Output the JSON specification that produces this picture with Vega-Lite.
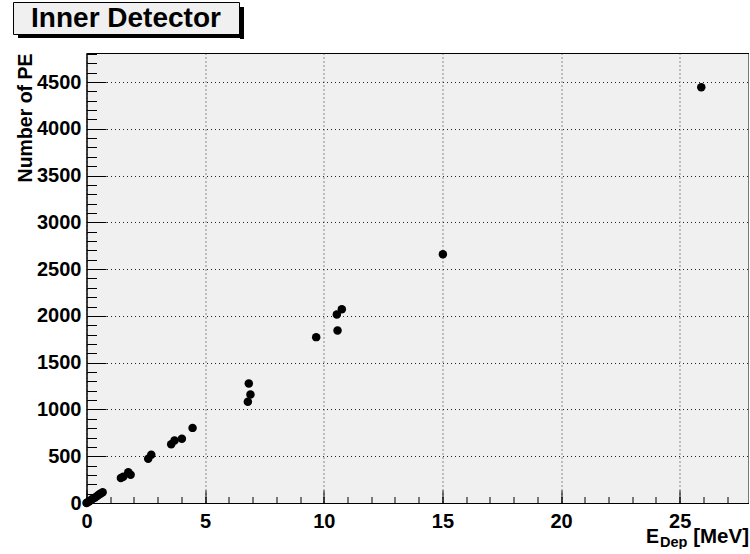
{
  "$schema": "https://vega.github.io/schema/vega-lite/v6.json",
  "background": "white",
  "padding": {"left": 12, "top": 1, "right": 0, "bottom": 0},
  "config": {"font": "Liberation Sans"},
  "columns": 2,
  "align": "none",
  "spacing": {"row": 17, "column": -225.5},
  "datasets": {
    "pe": [
      {"E": 0.0, "PE": 0}, {"E": 0.05, "PE": 8}, {"E": 0.12, "PE": 20}, {"E": 0.2, "PE": 34},
      {"E": 0.28, "PE": 47}, {"E": 0.36, "PE": 60}, {"E": 0.45, "PE": 76}, {"E": 0.53, "PE": 90},
      {"E": 0.6, "PE": 102}, {"E": 0.68, "PE": 115},
      {"E": 1.45, "PE": 268}, {"E": 1.55, "PE": 280}, {"E": 1.76, "PE": 328}, {"E": 1.86, "PE": 303},
      {"E": 2.6, "PE": 472}, {"E": 2.73, "PE": 517},
      {"E": 3.57, "PE": 628}, {"E": 3.71, "PE": 668}, {"E": 4.02, "PE": 688}, {"E": 4.47, "PE": 803},
      {"E": 6.8, "PE": 1081}, {"E": 6.91, "PE": 1160}, {"E": 6.84, "PE": 1277},
      {"E": 9.68, "PE": 1773}, {"E": 10.58, "PE": 1845}, {"E": 10.55, "PE": 2016}, {"E": 10.76, "PE": 2070},
      {"E": 15.02, "PE": 2658},
      {"E": 25.91, "PE": 4445}
    ]
  },
  "concat": [
    {
      "width": 226,
      "height": 32,
      "view": {"stroke": "black", "strokeWidth": 1, "fill": "#f0f0f0"},
      "data": {"values": [{"label": "Inner Detector", "k": 0}]},
      "mark": {"type": "text", "font": "Liberation Sans", "fontWeight": "bold", "fontSize": 28, "color": "black", "baseline": "middle", "align": "center", "dy": 1},
      "encoding": {
        "text": {"field": "label"},
        "x": {
          "field": "k", "type": "quantitative", "scale": {"domain": [-1, 1]},
          "axis": {"orient": "bottom", "labels": false, "ticks": false, "grid": false, "title": null,
                   "domain": true, "domainColor": "black", "domainWidth": 4, "translate": 5, "offset": -3}
        },
        "y": {
          "field": "k", "type": "quantitative", "scale": {"domain": [-1, 1]},
          "axis": {"orient": "right", "labels": false, "ticks": false, "grid": false, "title": null,
                   "domain": true, "domainColor": "black", "domainWidth": 4, "translate": 5, "offset": -2}
        }
      }
    },
    {
      "width": 1,
      "height": 1,
      "view": {"stroke": null, "fill": "white", "fillOpacity": 0},
      "data": {"values": []},
      "mark": "point"
    },
    {
      "width": 1,
      "height": 1,
      "view": {"stroke": null, "fill": "white", "fillOpacity": 0},
      "data": {"values": []},
      "mark": "point"
    },
    {
      "width": 662,
      "height": 450,
      "view": {"stroke": "black", "strokeWidth": 1, "fill": "#f0f0f0"},
      "data": {"name": "pe"},
      "resolve": {"axis": {"x": "independent", "y": "independent"}},
      "layer": [
        {
          "mark": {"type": "point", "filled": true, "color": "black", "size": 72, "opacity": 1},
          "encoding": {
            "x": {
              "field": "E", "type": "quantitative",
              "scale": {"domain": [0, 27.9], "nice": false, "zero": false},
              "axis": {
                "orient": "bottom",
                "values": [0, 5, 10, 15, 20, 25], "format": "d",
                "grid": true, "gridColor": "#222222", "gridDash": [1, 3], "gridWidth": 1,
                "ticks": false, "domain": true, "domainColor": "black", "domainWidth": 1,
                "labelFont": "Liberation Sans", "labelFontWeight": "bold", "labelFontSize": 20, "labelColor": "black",
                "labelPadding": 8, "labelFlush": false, "labelOverlap": false,
                "title": "[MeV]", "titleFont": "Liberation Sans", "titleFontWeight": "bold", "titleFontSize": 20.5, "titleColor": "black",
                "titleX": 662, "titleY": 39, "titleAlign": "right", "titleBaseline": "alphabetic"
              }
            },
            "y": {
              "field": "PE", "type": "quantitative",
              "scale": {"domain": [0, 4810], "nice": false, "zero": false},
              "axis": {
                "orient": "left",
                "values": [0, 500, 1000, 1500, 2000, 2500, 3000, 3500, 4000, 4500], "format": "d",
                "grid": true, "gridColor": "#222222", "gridDash": [1, 3], "gridWidth": 1,
                "ticks": false, "domain": true, "domainColor": "black", "domainWidth": 1,
                "labelFont": "Liberation Sans", "labelFontWeight": "bold", "labelFontSize": 20, "labelColor": "black",
                "labelPadding": 5.5, "labelFlush": false, "labelOverlap": false,
                "title": "Number of PE", "titleFont": "Liberation Sans", "titleFontWeight": "bold", "titleFontSize": 19.5, "titleColor": "black",
                "titleX": -55, "titleY": 0, "titleAngle": -90, "titleAlign": "right", "titleBaseline": "alphabetic"
              }
            }
          }
        },
        {
          "mark": {"type": "point", "filled": true, "opacity": 0},
          "encoding": {
            "x": {
              "field": "E", "type": "quantitative",
              "axis": {
                "orient": "bottom",
                "values": [0, 5, 10, 15, 20, 25],
                "grid": false, "domain": false, "labels": false,
                "ticks": true, "tickSize": -13, "tickColor": "black", "tickWidth": 1,
                "title": "E", "titleFont": "Liberation Sans", "titleFontWeight": "bold", "titleFontSize": 19.5, "titleColor": "black",
                "titleX": 559, "titleY": 39, "titleAlign": "left", "titleBaseline": "alphabetic"
              }
            },
            "y": {
              "field": "PE", "type": "quantitative",
              "axis": {
                "orient": "left",
                "values": [0, 500, 1000, 1500, 2000, 2500, 3000, 3500, 4000, 4500],
                "grid": false, "domain": false, "labels": false,
                "ticks": true, "tickSize": -19.5, "tickColor": "black", "tickWidth": 1,
                "title": null
              }
            }
          }
        },
        {
          "mark": {"type": "point", "filled": true, "opacity": 0},
          "encoding": {
            "x": {
              "field": "E", "type": "quantitative",
              "axis": {
                "orient": "bottom",
                "values": [0, 1, 2, 3, 4, 5, 6, 7, 8, 9, 10, 11, 12, 13, 14, 15, 16, 17, 18, 19, 20, 21, 22, 23, 24, 25, 26, 27],
                "grid": false, "domain": false, "labels": false,
                "ticks": true, "tickSize": -6.5, "tickColor": "black", "tickWidth": 1,
                "title": "Dep", "titleFont": "Liberation Sans", "titleFontWeight": "bold", "titleFontSize": 14.5, "titleColor": "black",
                "titleX": 573, "titleY": 43, "titleAlign": "left", "titleBaseline": "alphabetic"
              }
            },
            "y": {
              "field": "PE", "type": "quantitative",
              "axis": {
                "orient": "left",
                "values": [0, 100, 200, 300, 400, 500, 600, 700, 800, 900, 1000, 1100, 1200, 1300, 1400, 1500, 1600, 1700, 1800, 1900, 2000, 2100, 2200, 2300, 2400, 2500, 2600, 2700, 2800, 2900, 3000, 3100, 3200, 3300, 3400, 3500, 3600, 3700, 3800, 3900, 4000, 4100, 4200, 4300, 4400, 4500, 4600, 4700, 4800],
                "grid": false, "domain": false, "labels": false,
                "ticks": true, "tickSize": -10, "tickColor": "black", "tickWidth": 1,
                "title": null
              }
            }
          }
        }
      ]
    }
  ]
}
